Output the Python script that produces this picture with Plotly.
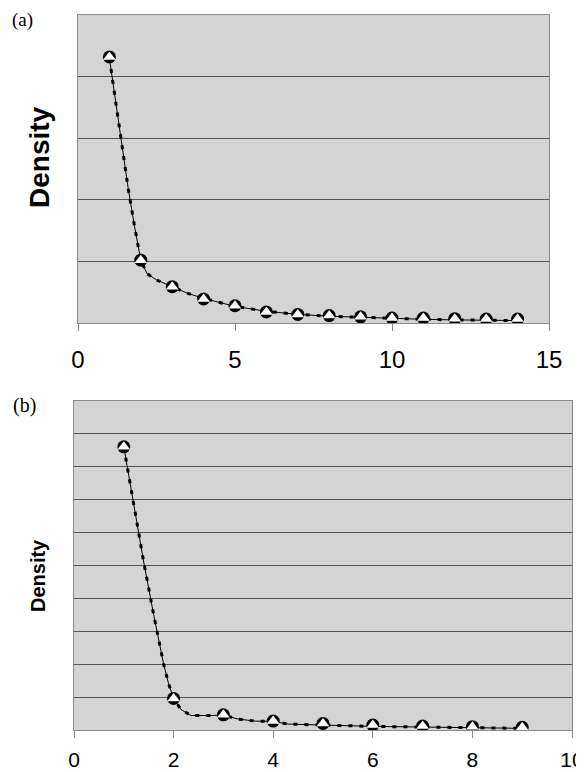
import plotly.graph_objects as go

# ---- Panel (a) data ----
a_mark_x = [1, 2, 3, 4, 5, 6, 7, 8, 9, 10, 11, 12, 13, 14]
a_mark_y = [4.32, 1.02, 0.59, 0.39, 0.28, 0.18, 0.14, 0.12, 0.10, 0.08, 0.08, 0.07, 0.065, 0.065]
a_curve_x = [1, 1.2, 1.4, 1.6, 1.8, 2, 2.2, 2.5, 3, 3.5, 4, 4.5, 5, 6, 7, 8, 9, 10, 11, 12, 13, 14]
a_curve_y = [4.30, 3.58, 2.83, 2.18, 1.57, 1.02, 0.80, 0.70, 0.59, 0.48, 0.40, 0.33, 0.27,
             0.19, 0.14, 0.11, 0.09, 0.07, 0.06, 0.05, 0.05, 0.04]
a_ticks = [0, 5, 10, 15]

# ---- Panel (b) data ----
b_mark_x = [1, 2, 3, 4, 5, 6, 7, 8, 9]
b_mark_y = [8.6, 0.96, 0.46, 0.27, 0.20, 0.15, 0.12, 0.10, 0.08]
b_curve_x = [1, 1.2, 1.4, 1.6, 1.8, 1.9, 2, 2.15, 2.35, 2.7, 3, 3.3, 3.65, 4, 4.3, 5, 5.5, 6, 7, 8, 9]
b_curve_y = [8.6, 6.8, 5.1, 3.5, 2.0, 1.4, 0.96, 0.62, 0.44, 0.44, 0.45, 0.33, 0.27, 0.26,
             0.18, 0.15, 0.12, 0.11, 0.09, 0.07, 0.05]
b_ticks = [0, 2, 4, 6, 8, 10]

# page has an 8px body margin: figure occupies page (8..584, 8..772)
OFF = 8
W, H = 584 - OFF, 772 - OFF
def px(v): return (v - OFF) / W
def py(v): return 1 - (v - OFF) / H

fig = go.Figure()

def add_panel(cx, cy, mx, my, xa, ya):
    fig.add_trace(go.Scatter(x=cx, y=cy, mode="lines", xaxis=xa, yaxis=ya,
                             line=dict(color="black", width=1), showlegend=False))
    fig.add_trace(go.Scatter(x=cx, y=cy, mode="lines", xaxis=xa, yaxis=ya,
                             line=dict(color="black", width=3, dash="4px,7px"), showlegend=False))
    fig.add_trace(go.Scatter(x=mx, y=my, mode="markers", xaxis=xa, yaxis=ya,
                             marker=dict(symbol="circle", size=13, color="black"), showlegend=False))
    fig.add_trace(go.Scatter(x=mx, y=my, mode="markers", xaxis=xa, yaxis=ya,
                             marker=dict(symbol="triangle-up", size=11, color="white",
                                         line=dict(width=0)), showlegend=False))

add_panel(a_curve_x, a_curve_y, a_mark_x, a_mark_y, "x", "y")
add_panel(b_curve_x, b_curve_y, b_mark_x, b_mark_y, "x2", "y2")

bg = "#d4d4d4"
border = "#8a8a8a"
grid = "#555555"

def xaxis(dom, rng, ticks, fsize, anchor, standoff):
    return dict(domain=dom, range=rng, tickvals=ticks, ticktext=[str(t) for t in ticks],
                ticks="outside", ticklen=7, tickcolor=border, showgrid=False, zeroline=False,
                showline=True, linecolor=border, mirror=True, anchor=anchor, automargin=False,
                ticklabelstandoff=standoff,
                tickfont=dict(family="Liberation Sans, Arial", size=fsize, color="black"))

def yaxis(dom, rng, grids, anchor):
    return dict(domain=dom, range=rng, tickvals=grids, showticklabels=False, ticks="",
                showgrid=True, gridcolor=grid, gridwidth=1, zeroline=False, automargin=False,
                showline=True, linecolor=border, mirror=True, anchor=anchor)

fig.update_layout(
    width=W, height=H, margin=dict(l=0, r=0, t=0, b=0, autoexpand=False),
    paper_bgcolor="white", plot_bgcolor=bg,
    xaxis=xaxis([px(78), px(549)], [0, 15], a_ticks, 24, "y", 8),
    yaxis=yaxis([py(323), py(15)], [0, 5], [1, 2, 3, 4], "x"),
    xaxis2=xaxis([px(74), px(572)], [0, 10], b_ticks, 21, "y2", 4),
    yaxis2=yaxis([py(730), py(400.7)], [0, 10], [1, 2, 3, 4, 5, 6, 7, 8, 9], "x2"),
)

annots = [
    dict(text="(a)", x=px(11), y=1, xanchor="left", yanchor="top", borderpad=0,
         font=dict(family="Liberation Serif, Times New Roman", size=19, color="black")),
    dict(text="(b)", x=px(11), y=py(405), xanchor="left", yanchor="middle",
         font=dict(family="Liberation Serif, Times New Roman", size=20, color="black")),
    dict(text="<b>Density</b>", x=px(40), y=py(157), xanchor="center", yanchor="middle",
         textangle=-90, font=dict(family="Liberation Sans, Arial", size=28, color="black")),
    dict(text="<b>Density</b>", x=px(38), y=py(576), xanchor="center", yanchor="middle",
         textangle=-90, font=dict(family="Liberation Sans, Arial", size=20, color="black")),
]
for a in annots:
    a.update(xref="paper", yref="paper", showarrow=False)
fig.update_layout(annotations=annots)

fig.write_html("out.html")
